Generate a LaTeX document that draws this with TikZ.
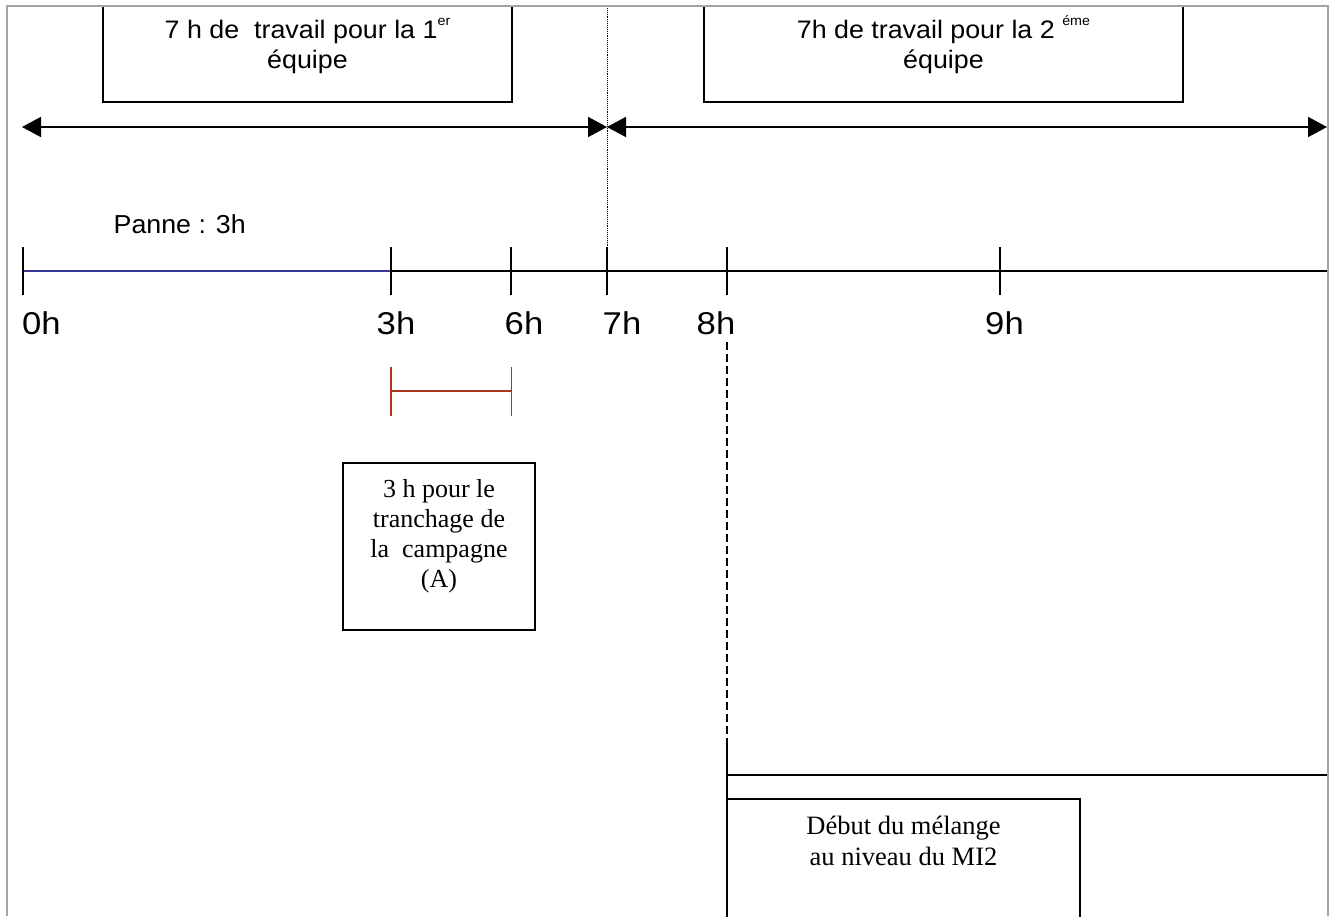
\documentclass[tikz,border=0pt]{standalone}
\usepackage{fontspec}
\setmainfont{Liberation Serif}
\newfontfamily\sanswide[FakeStretch=1.06]{Liberation Sans}
\newfontfamily\sanspanne[FakeStretch=1.03]{Liberation Sans}
\newfontfamily\sanshour[FakeStretch=1.1]{Liberation Sans}
\usetikzlibrary{arrows.meta}

\definecolor{framegray}{RGB}{165,165,165}
\definecolor{panneblue}{RGB}{55,55,150}
\definecolor{bracketred}{RGB}{170,55,25}

\newcommand{\supr}[1]{\raisebox{0.5em}{\fontsize{13.5}{13.5}\selectfont #1}}

\begin{document}
\begin{tikzpicture}[x=1pt,y=-1pt,
  frameline/.style={draw=framegray,line width=2pt},
  boxframe/.style={draw=black,line width=1.6pt,rectangle,inner sep=0pt,outer sep=0pt,anchor=north west},
  sanstext/.style={inner sep=0pt,align=center,font=\sanswide\fontsize{25.3}{30}\selectfont},
  hourlabel/.style={inner sep=0pt,anchor=base,font=\sanshour\fontsize{31.5}{32}\selectfont},
  seriftext/.style={inner sep=0pt,align=center,anchor=base},
  teamarrow/.style={line width=1.8pt,{Triangle[length=19pt,width=20pt]}-{Triangle[length=19pt,width=20pt]}},
  axisline/.style={line width=2pt},
  tickmark/.style={line width=1.3pt},
  bracket/.style={draw=bracketred,line width=1.5pt}]

\clip (0,0) rectangle (1335,916);
\fill[white] (0,0) rectangle (1335,916);

% team boxes at the top (text nodes anchored on the baseline of their last line)
\node[boxframe,minimum width=409pt,minimum height=96pt] (teamA) at (103,6) {};
\node[boxframe,minimum width=479pt,minimum height=96pt] (teamB) at (704,6) {};
\node[sanstext,anchor=base] (teamAtxt) at (307.5,68) {7 h de\ \ travail pour la 1\supr{er}\\équipe};
\node[sanstext,anchor=base] (teamBtxt) at (943.5,68) {7h de travail pour la 2 \supr{éme}\\équipe};

% shift boundaries
\coordinate (startA) at (22,127);
\coordinate (shift) at (607,127);
\coordinate (endB) at (1327,127);
\draw[teamarrow] (startA) -- (shift);
\draw[teamarrow] (shift) -- (endB);

% time axis
\coordinate (h0) at (23,270.7);
\coordinate (h3) at (391,270.7);
\coordinate (h6) at (511,270.7);
\coordinate (h7) at (607,270.7);
\coordinate (h8) at (727,270.7);
\coordinate (h9) at (1000,270.7);
\coordinate (hend) at (1328,270.7);
\coordinate (shifttop) at (607,6);

\draw[densely dotted,line width=0.9pt] (shifttop) -- ([yshift=-24pt]h7);
\draw[axisline] (h3) -- (hend);
\draw[axisline,draw=panneblue] (h0) -- (h3);
\foreach \t in {h0,h3,h6,h7,h8,h9}
  \draw[tickmark] ([yshift=-24pt]\t) -- ([yshift=24pt]\t);

\node[inner sep=0pt,anchor=base west,font=\sanspanne\fontsize{26}{30}\selectfont] (panne) at (113.5,233) {Panne : 3h};

\node[hourlabel,anchor=base west] (l0) at (21.8,334) {0h};
\node[hourlabel] (l3) at (396,334) {3h};
\node[hourlabel] (l6) at (524,334) {6h};
\node[hourlabel] (l7) at (622,334) {7h};
\node[hourlabel] (l8) at (716,334) {8h};
\node[hourlabel] (l9) at (1004.5,334) {9h};

% slicing interval
\coordinate (brA) at (391,391);
\coordinate (brB) at (511.5,391);
\draw[bracket] (brA) -- (brB);
\draw[bracket] ([yshift=-25pt]brA) -- ([yshift=24pt]brA);
\draw[bracket] ([yshift=-25pt]brB) -- ([yshift=24pt]brB);

\node[boxframe,minimum width=192pt,minimum height=167pt] (slice) at (343,463) {};
\node[seriftext,font=\fontsize{26}{29.7}\selectfont] (slicetxt) at (439,587) {3 h pour le\\tranchage de\\la\ \ campagne\\(A)};

% start of mixing
\coordinate (mixtop) at (727,342);
\coordinate (mixjoin) at (727,745);
\coordinate (mixbot) at (727,916);
\coordinate (mixline) at (1328,775);
\draw[dash pattern=on 8pt off 4pt,line width=1.4pt] (mixtop) -- (mixjoin);
\draw[line width=1.6pt] (mixjoin) -- (mixbot);
\draw[line width=1.8pt] (mixjoin |- mixline) -- (mixline);

\node[boxframe,minimum width=353pt,minimum height=160pt] (mix) at (727,799) {};
\node[seriftext,font=\fontsize{26.5}{31}\selectfont] (mixtxt) at (903.5,865) {Début du mélange\\au niveau du MI2};

% page frame
\draw[frameline] (7,916) -- (7,6) -- (1328,6) -- (1328,916);
\end{tikzpicture}
\end{document}
